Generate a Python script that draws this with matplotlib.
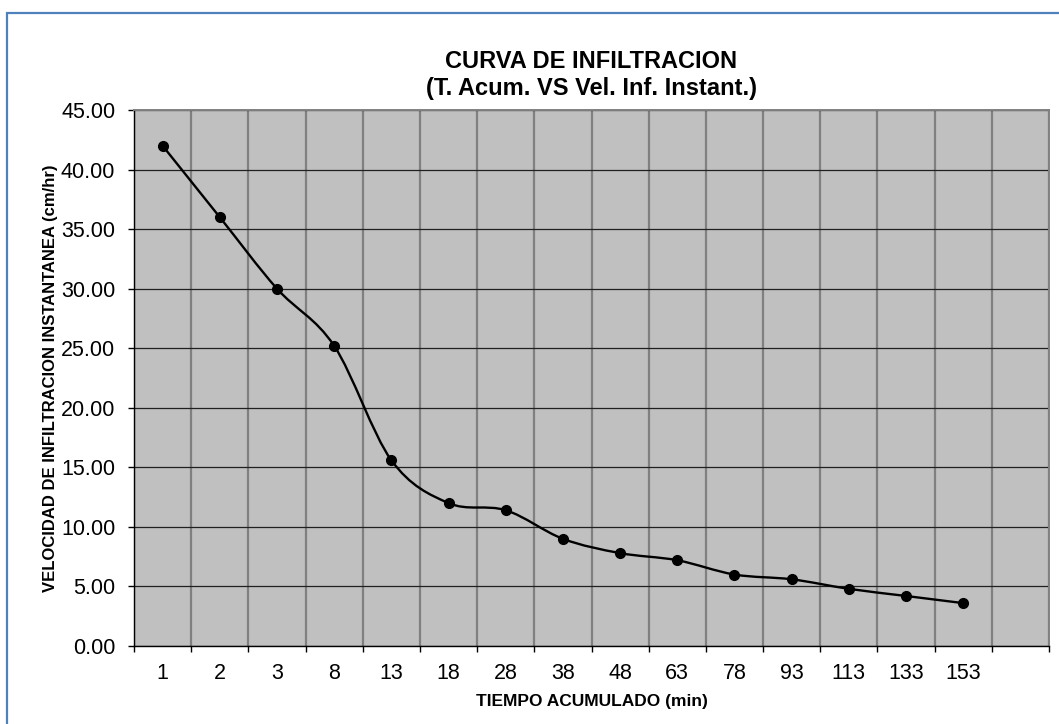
import numpy as np
import matplotlib
matplotlib.use('Agg')
import matplotlib.pyplot as plt
from matplotlib.path import Path
from matplotlib.patches import PathPatch, Rectangle

plt.rcParams['font.family'] = ['Liberation Sans', 'DejaVu Sans']

# datos
tiempo = ['1', '2', '3', '8', '13', '18', '28', '38', '48', '63', '78', '93', '113', '133', '153']
velocidad = [42.0, 36.0, 30.0, 25.2, 15.6, 12.0, 11.4, 9.0, 7.8, 7.2, 6.0, 5.6, 4.8, 4.2, 3.6]
yticks = [0, 5, 10, 15, 20, 25, 30, 35, 40, 45]


def curva_suave(x, y):
	# linea suavizada tipo Excel (bezier con tangentes catmull-rom)
	pts = np.column_stack([x, y]).astype(float)
	n = len(pts)
	verts = [pts[0]]
	codes = [Path.MOVETO]
	for i in range(n - 1):
		p0 = pts[max(i - 1, 0)]
		p1 = pts[i]
		p2 = pts[i + 1]
		p3 = pts[min(i + 2, n - 1)]
		c1 = p1 + (p2 - p0) / 6.0
		c2 = p2 - (p3 - p1) / 6.0
		verts += [c1, c2, p2]
		codes += [Path.CURVE4] * 3
	return Path(verts, codes)


fig = plt.figure(figsize=(10.59, 7.24), dpi=100)
fig.patch.set_facecolor('white')
fig.patches.append(Rectangle((7 / 1059, -0.05), 1.2, 1 - 13 / 724 + 0.05,
	transform=fig.transFigure, fill=False, edgecolor='#4F81BD', linewidth=1.6))

ax = fig.add_axes([134 / 1059, 1 - 646 / 724, 915 / 1059, 536 / 724])
ax.set_facecolor('#C0C0C0')

x = np.arange(len(tiempo))
ax.add_patch(PathPatch(curva_suave(x, velocidad), fill=False, edgecolor='black', linewidth=1.7, zorder=3))
ax.plot(x, velocidad, linestyle='none', marker='o', markersize=7, color='black', zorder=4)

ax.set_xlim(-0.5, len(tiempo) + 0.5)
ax.set_ylim(0, 45)
ax.set_yticks(yticks)
ax.set_yticklabels(['%.2f' % v for v in yticks])
ax.set_xticks(x)
ax.set_xticklabels(tiempo)
ax.set_xticks(np.arange(-0.5, len(tiempo) + 1, 1.0), minor=True)

ax.tick_params(axis='x', which='major', length=0, pad=12, labelsize=15.5)
ax.tick_params(axis='x', which='minor', length=4.5, width=1, direction='out')
ax.tick_params(axis='y', which='major', length=4.5, width=1, direction='out', pad=9, labelsize=15.5)

ax.grid(axis='y', which='major', color='#202020', linewidth=0.9)
ax.grid(axis='x', which='minor', color='#808080', linewidth=1.6)
ax.set_axisbelow(True)

for s in ['top', 'right']:
	ax.spines[s].set_color('#808080')
	ax.spines[s].set_linewidth(1.4)
for s in ['left', 'bottom']:
	ax.spines[s].set_color('black')
	ax.spines[s].set_linewidth(1.0)

ax.set_xlabel('TIEMPO ACUMULADO (min)', fontsize=12.5, fontweight='bold')
ax.xaxis.set_label_coords(0.5, (646 - 694) / 536)
ax.set_ylabel('VELOCIDAD DE INFILTRACION INSTANTANEA (cm/hr)', fontsize=12, fontweight='bold')
ax.yaxis.set_label_coords((58 - 134) / 915, 0.5)

fig.text(591 / 1059, 1 - 75 / 724, 'CURVA DE INFILTRACION\n(T. Acum. VS Vel. Inf. Instant.)',
	ha='center', va='center', fontsize=17, fontweight='bold', linespacing=1.2)

fig.savefig('out.png', dpi=100)
